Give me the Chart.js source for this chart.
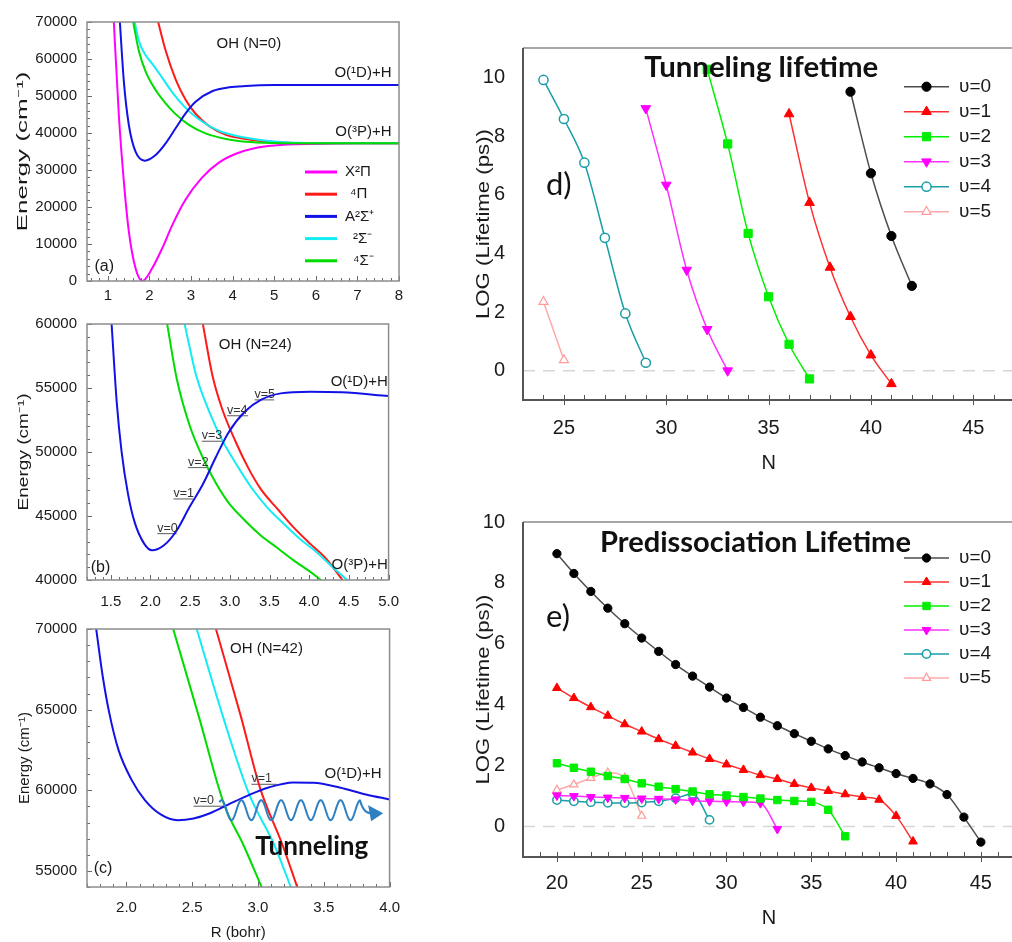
<!DOCTYPE html>
<html>
<head>
<meta charset="utf-8">
<title>OH potential curves and rotational lifetimes</title>
<script src="https://cdn.jsdelivr.net/npm/chart.js@4.4.1/dist/chart.umd.min.js"></script>
<style>
  html, body { margin: 0; padding: 0; background: #fff; }
  body { width: 1012px; height: 942px; overflow: hidden; position: relative; }
  canvas { position: absolute; }
</style>
</head>
<body>
<canvas id="panelA" width="412" height="310" style="left:0;top:0"></canvas>
<canvas id="panelB" width="412" height="314" style="left:0;top:305px"></canvas>
<canvas id="panelC" width="412" height="337" style="left:0;top:605px"></canvas>
<canvas id="panelD" width="551" height="480" style="left:470px;top:0"></canvas>
<canvas id="panelE" width="551" height="452" style="left:470px;top:490px"></canvas>
<script>
// ---------- (a) OH potential energy curves, N = 0 (R in bohr, E in cm-1) ----------
const rX2Pi_A   = [1.145, 1.265, 1.386, 1.506, 1.667, 1.83, 2.07, 2.31, 2.55, 2.87, 3.27, 3.67, 4.08, 4.5, 5.0, 6.0, 7.0, 8.0];
const eX2Pi_A   = [70000, 44870, 26840, 13330, 3430, 0, 3500, 8900, 15100, 22000, 28000, 32000, 34400, 35800, 36600, 37050, 37200, 37200];
const r4Pi_A    = [2.21, 2.39, 2.63, 2.87, 3.11, 3.43, 3.84, 4.32, 5.0, 6.0, 8.0];
const e4Pi_A    = [70000, 62300, 54500, 49000, 45200, 41900, 39500, 38400, 37600, 37250, 37200];
const rA2Sig_A  = [1.29, 1.386, 1.506, 1.667, 1.89, 2.15, 2.39, 2.63, 2.87, 3.11, 3.52, 3.92, 4.32, 5.0, 6.0, 8.0];
const eA2Sig_A  = [70000, 53900, 42170, 34950, 32520, 34060, 37200, 41270, 45330, 48470, 51360, 52350, 52700, 52950, 53000, 53000];
const r2SigM_A  = [1.645, 1.75, 1.91, 2.07, 2.31, 2.55, 2.87, 3.19, 3.67, 4.32, 5.0, 6.0, 8.0];
const e2SigM_A  = [70000, 64800, 61000, 58700, 54900, 51000, 46800, 43700, 40600, 38700, 37700, 37250, 37200];
const r4SigM_A  = [1.61, 1.75, 1.91, 2.15, 2.39, 2.63, 2.95, 3.35, 3.84, 4.32, 5.0, 6.0, 8.0];
const e4SigM_A  = [70000, 62000, 56600, 51600, 48000, 45100, 42200, 39900, 38400, 37650, 37300, 37200, 37200];

// ---------- (b) N = 24 ----------
const rA2Sig_B  = [1.51, 1.574, 1.635, 1.717, 1.80, 1.92, 2.02, 2.17, 2.33, 2.49, 2.66, 2.82, 2.98, 3.19, 3.39, 3.64, 4.01, 4.41, 5.0];
const eA2Sig_B  = [60000, 53940, 50070, 46710, 44520, 42840, 42320, 42710, 43870, 45680, 47480, 49550, 51490, 53160, 54070, 54580, 54710, 54660, 54380];
const r4SigM_B  = [2.21, 2.33, 2.49, 2.66, 2.82, 2.98, 3.19, 3.39, 3.60, 3.80, 4.01, 4.15];
const e4SigM_B  = [60000, 55740, 52130, 49550, 47610, 46070, 44650, 43480, 42500, 41550, 40650, 40000];
const r2SigM_B  = [2.43, 2.575, 2.74, 2.90, 3.07, 3.27, 3.47, 3.68, 3.88, 4.09, 4.29, 4.48];
const e2SigM_B  = [60000, 56000, 53160, 50970, 49160, 47230, 45680, 44390, 43230, 42190, 41030, 40000];
const r4Pi_B    = [2.66, 2.78, 2.90, 3.07, 3.23, 3.39, 3.60, 3.80, 4.01, 4.21, 4.42];
const e4Pi_B    = [60000, 56000, 53420, 50840, 48780, 47100, 45550, 44130, 42840, 41680, 40000];
// vibrational levels of A2Sigma+ at N = 24: energy and the R span of each level line
const levelE_B  = [43620, 46330, 48780, 50840, 52830, 54070];
const levelR0_B = [2.085, 2.29, 2.474, 2.646, 2.965, 3.31];
const levelR1_B = [2.33, 2.535, 2.72, 2.90, 3.23, 3.56];

// ---------- (c) N = 42 ----------
const rA2Sig_C  = [1.77, 1.82, 1.87, 1.94, 2.04, 2.14, 2.26, 2.39, 2.51, 2.63, 2.78, 2.93, 3.08, 3.27, 3.42, 3.62, 3.82, 4.0];
const eA2Sig_C  = [70000, 67040, 64770, 62490, 60630, 59390, 58500, 58140, 58250, 58560, 59140, 59700, 60170, 60480, 60460, 60170, 59740, 59430];
const r4SigM_C  = [2.355, 2.547, 2.744, 2.89, 3.027];
const e4SigM_C  = [70000, 64660, 59075, 56590, 54000];
const r2SigM_C  = [2.534, 2.73, 2.93, 3.125, 3.249];
const e2SigM_C  = [70000, 64660, 59800, 56590, 54000];
const r4Pi_C    = [2.68, 2.867, 3.015, 3.187, 3.298];
const e4Pi_C    = [70000, 64660, 60150, 56590, 54000];
const levelE_C  = [59010, 60370];
const levelR0_C = [2.51, 2.95];
const levelR1_C = [2.745, 3.14];
// tunneling wave: start R, last crest R, arrow tip R, centre energy
const waveR = [2.707, 3.778, 3.951];
const waveE = 58765;

// ---------- tick values ----------
const xTicksA = [1, 2, 3, 4, 5, 6, 7, 8];
const yTicksA = [0, 10000, 20000, 30000, 40000, 50000, 60000, 70000];
const xTicksB = [1.5, 2.0, 2.5, 3.0, 3.5, 4.0, 4.5, 5.0];
const yTicksB = [40000, 45000, 50000, 55000, 60000];
const xTicksC = [2.0, 2.5, 3.0, 3.5, 4.0];
const yTicksC = [55000, 60000, 65000, 70000];
const xTicksD = [25, 30, 35, 40, 45];
const xTicksE = [20, 25, 30, 35, 40, 45];
const yTicksLife = [0, 2, 4, 6, 8, 10];

// ---------- (d) tunneling lifetime, log10(tau / ps) ----------
const nTun0 = [39, 40, 41, 42];
const logTun0 = [9.51, 6.73, 4.59, 2.89];
const nTun1 = [36, 37, 38, 39, 40, 41];
const logTun1 = [8.75, 5.73, 3.52, 1.84, 0.53, -0.45];
const nTun2 = [32, 33, 34, 35, 36, 37];
const logTun2 = [10.27, 7.73, 4.68, 2.52, 0.90, -0.28];
const nTun3 = [29, 30, 31, 32, 33];
const logTun3 = [8.94, 6.33, 3.43, 1.41, 0.0];
const nTun4 = [24, 25, 26, 27, 28, 29];
const logTun4 = [9.91, 8.58, 7.09, 4.53, 1.95, 0.27];
const nTun5 = [24, 25];
const logTun5 = [2.35, 0.36];

// ---------- (e) predissociation lifetime, log10(tau / ps) ----------
const nPre0 = [20, 21, 22, 23, 24, 25, 26, 27, 28, 29, 30, 31, 32, 33, 34, 35, 36, 37, 38, 39, 40, 41, 42, 43, 44, 45];
const logPre0 = [8.96, 8.31, 7.72, 7.17, 6.66, 6.19, 5.75, 5.32, 4.94, 4.58, 4.22, 3.91, 3.59, 3.31, 3.05, 2.80, 2.55, 2.33, 2.12, 1.93, 1.74, 1.58, 1.40, 1.05, 0.31, -0.51];
const nPre1 = [20, 21, 22, 23, 24, 25, 26, 27, 28, 29, 30, 31, 32, 33, 34, 35, 36, 37, 38, 39, 40, 41];
const logPre1 = [4.55, 4.22, 3.92, 3.64, 3.36, 3.12, 2.87, 2.65, 2.43, 2.22, 2.04, 1.86, 1.69, 1.56, 1.40, 1.27, 1.17, 1.06, 0.97, 0.88, 0.35, -0.49];
const nPre2 = [20, 21, 22, 23, 24, 25, 26, 27, 28, 29, 30, 31, 32, 33, 34, 35, 36, 37];
const logPre2 = [2.08, 1.93, 1.80, 1.66, 1.56, 1.42, 1.31, 1.23, 1.15, 1.06, 1.02, 0.97, 0.92, 0.87, 0.84, 0.81, 0.55, -0.32];
const nPre3 = [20, 21, 22, 23, 24, 25, 26, 27, 28, 29, 30, 31, 32, 33];
const logPre3 = [1.02, 1.00, 0.97, 0.95, 0.94, 0.92, 0.91, 0.89, 0.85, 0.83, 0.82, 0.81, 0.77, -0.08];
const nPre4 = [20, 21, 22, 23, 24, 25, 26, 27, 28, 29];
const logPre4 = [0.87, 0.83, 0.80, 0.78, 0.77, 0.79, 0.83, 0.93, 1.07, 0.22];
const nPre5 = [20, 21, 22, 23, 24, 25];
const logPre5 = [1.20, 1.38, 1.59, 1.77, 1.60, 0.35];

// ---------- shared helpers ----------
const SANS = "'Liberation Sans', Arial, Helvetica, sans-serif";
const HUMAN = "Lato, 'Open Sans', sans-serif";
const INK = '#1a1a1a';
Chart.defaults.font.family = SANS;
Chart.defaults.color = INK;

const xy = (xs, ys) => xs.map((x, i) => ({ x, y: ys[i] }));

const COL = { magenta: '#ff00ff', red: '#ff1a1a', blue: '#1212e6', cyan: '#12ecf2', green: '#00dc00' };

function curve(label, rs, es, color) {
  return { label, data: xy(rs, es), borderColor: color, borderWidth: 2, pointRadius: 0,
           cubicInterpolationMode: 'monotone', fill: false };
}
function levelLines(es, r0s, r1s) {
  return es.map((e, i) => ({ label: 'v=' + i, data: [{ x: r0s[i], y: e }, { x: r1s[i], y: e }],
                             borderColor: '#5a5a5a', borderWidth: 1, pointRadius: 0, tension: 0 }));
}
function levelNotes(es, r0s) {
  return es.map((e, i) => ({ text: 'v=' + i, x: r0s[i], y: e, size: 12.5, color: '#333',
                             baseline: 'alphabetic', dy: -2 }));
}

// draws a simple marker (circle / triangle / square) centred at (x, y)
function marker(ctx, shape, r, rot, x, y) {
  ctx.beginPath();
  if (shape === 'circle') {
    ctx.arc(x, y, r, 0, Math.PI * 2);
  } else if (shape === 'rect') {
    const h = r * Math.SQRT1_2;
    ctx.rect(x - h, y - h, 2 * h, 2 * h);
  } else {
    const s = rot ? -1 : 1;
    ctx.moveTo(x, y - s * r);
    ctx.lineTo(x + r * 0.866, y + s * r * 0.5);
    ctx.lineTo(x - r * 0.866, y + s * r * 0.5);
    ctx.closePath();
  }
}

// inner tick marks, plot frame and axis lines
function frame(o) {
  return {
    id: 'frame',
    afterDatasetsDraw(chart) {
      const { ctx, chartArea: a, scales: { x, y } } = chart;
      ctx.save();
      ctx.strokeStyle = o.tickColor;
      ctx.lineWidth = 1;
      const marks = (scale, step, len, out, horiz) => {
        const n0 = Math.ceil(scale.min / step - 1e-6), n1 = Math.floor(scale.max / step + 1e-6);
        for (let n = n0; n <= n1; n++) {
          const p = Math.round(scale.getPixelForValue(n * step)) + 0.5;
          ctx.beginPath();
          if (horiz) { ctx.moveTo(p, a.bottom + out); ctx.lineTo(p, a.bottom - len); }
          else { ctx.moveTo(a.left - out, p); ctx.lineTo(a.left + len, p); }
          ctx.stroke();
        }
      };
      if (o.xMinor) marks(x, o.xMinor, o.minorLen, 0, true);
      if (o.xMajor) marks(x, o.xMajor, o.majorLen, o.majorOut || 0, true);
      if (o.yMinor) marks(y, o.yMinor, o.minorLen, 0, false);
      if (o.yMajor) marks(y, o.yMajor, o.majorLen, o.majorOut || 0, false);
      if (o.box) {
        ctx.strokeStyle = o.boxColor; ctx.lineWidth = o.boxWidth;
        ctx.strokeRect(a.left, a.top, a.right - a.left, a.bottom - a.top);
      }
      if (o.topLine) {
        ctx.strokeStyle = o.topColor; ctx.lineWidth = 1.5;
        ctx.beginPath(); ctx.moveTo(a.left, a.top); ctx.lineTo(a.right, a.top); ctx.stroke();
      }
      if (o.axes) {
        ctx.strokeStyle = o.axisColor; ctx.lineWidth = 2;
        ctx.beginPath(); ctx.moveTo(a.left, a.top); ctx.lineTo(a.left, a.bottom); ctx.lineTo(a.right, a.bottom); ctx.stroke();
      }
      ctx.restore();
    }
  };
}

// free text placed in data coordinates
function notes(items) {
  return {
    id: 'notes',
    afterDatasetsDraw(chart) {
      const { ctx, scales: { x, y } } = chart;
      for (const n of items) {
        ctx.save();
        const fam = n.family || SANS, wt = n.weight || 'normal';
        let size = n.size;
        ctx.font = `${wt} ${size}px ${fam}`;
        if (n.fit) { size = size * n.fit / ctx.measureText(n.text).width; ctx.font = `${wt} ${size}px ${fam}`; }
        ctx.fillStyle = n.color || INK;
        ctx.textAlign = n.align || 'left';
        ctx.textBaseline = n.baseline || 'middle';
        ctx.fillText(n.text, x.getPixelForValue(n.x), y.getPixelForValue(n.y) + (n.dy || 0));
        ctx.restore();
      }
    }
  };
}

// rotated axis title, stretched along its length
function sideTitle(t) {
  return {
    id: 'sideTitle',
    afterDraw(chart) {
      const { ctx, chartArea: a } = chart;
      ctx.save();
      ctx.font = `${t.size}px ${SANS}`;
      ctx.fillStyle = INK;
      ctx.textAlign = 'center';
      ctx.textBaseline = 'middle';
      const w = ctx.measureText(t.text).width;
      ctx.translate(t.cx, (a.top + a.bottom) / 2 + (t.dy || 0));
      ctx.rotate(-Math.PI / 2);
      ctx.scale(t.length / w, 1);
      ctx.fillText(t.text, 0, 0);
      ctx.restore();
    }
  };
}

// key for the potential curves (a)
function curveKey(k) {
  return {
    id: 'curveKey',
    afterDraw(chart) {
      const { ctx, chartArea: a } = chart;
      k.items.forEach((it, i) => {
        const yy = a.top + k.top + i * k.step;
        ctx.save();
        ctx.strokeStyle = it.color; ctx.lineWidth = 3;
        ctx.beginPath(); ctx.moveTo(a.left + k.x0, yy); ctx.lineTo(a.left + k.x1, yy); ctx.stroke();
        ctx.font = `${k.size}px ${SANS}`; ctx.fillStyle = INK; ctx.textBaseline = 'middle';
        ctx.fillText(it.text, a.left + it.tx, yy);
        ctx.restore();
      });
    }
  };
}

// key for the lifetime series (d, e)
function seriesKey(k) {
  return {
    id: 'seriesKey',
    afterDraw(chart) {
      const { ctx, chartArea: a } = chart;
      chart.data.datasets.forEach((ds, i) => {
        const yy = a.top + k.top + i * k.step;
        const x0 = a.left + k.x0, x1 = a.left + k.x1;
        ctx.save();
        ctx.strokeStyle = ds.borderColor; ctx.lineWidth = ds.borderWidth;
        ctx.beginPath(); ctx.moveTo(x0, yy); ctx.lineTo(x1, yy); ctx.stroke();
        marker(ctx, ds.pointStyle, ds.pointRadius, ds.pointRotation, (x0 + x1) / 2, yy);
        ctx.fillStyle = ds.pointBackgroundColor; ctx.fill();
        ctx.strokeStyle = ds.pointBorderColor; ctx.lineWidth = ds.pointBorderWidth; ctx.stroke();
        ctx.font = `${k.size}px ${SANS}`; ctx.fillStyle = INK; ctx.textBaseline = 'middle';
        ctx.fillText(ds.label, a.left + k.tx, yy);
        ctx.restore();
      });
    }
  };
}

// light dashed reference line at log(lifetime) = 0
const zeroLine = {
  id: 'zeroLine',
  beforeDatasetsDraw(chart) {
    const { ctx, chartArea: a, scales: { y } } = chart;
    const p = y.getPixelForValue(0);
    ctx.save();
    ctx.strokeStyle = '#d6d6d6'; ctx.lineWidth = 1.5; ctx.setLineDash([12, 8]);
    ctx.beginPath(); ctx.moveTo(a.left, p); ctx.lineTo(a.right, p); ctx.stroke();
    ctx.restore();
  }
};

// wavy arrow showing tunneling through the centrifugal barrier (c)
const tunnelWave = {
  id: 'tunnelWave',
  afterDatasetsDraw(chart) {
    const { ctx, scales: { x, y } } = chart;
    const xs = x.getPixelForValue(waveR[0]), xe = x.getPixelForValue(waveR[1]), xt = x.getPixelForValue(waveR[2]);
    const yc = y.getPixelForValue(waveE);
    const A = 10, trough = xs + 12, P = (xe - trough) / 6.5;
    ctx.save();
    ctx.strokeStyle = '#2f80c3'; ctx.lineWidth = 2; ctx.lineJoin = 'round';
    ctx.beginPath();
    for (let px = xs; px <= xe + 0.01; px += 0.5) {
      const py = yc + A * Math.cos(2 * Math.PI * (px - trough) / P);
      if (px === xs) ctx.moveTo(px, py); else ctx.lineTo(px, py);
    }
    ctx.quadraticCurveTo(xe + 3, yc + 3, xe + 10, yc + 3);
    ctx.lineTo(xt - 10, yc + 3);
    ctx.stroke();
    ctx.fillStyle = '#2f80c3';
    ctx.beginPath(); ctx.moveTo(xt, yc + 3); ctx.lineTo(xt - 15, yc - 5); ctx.lineTo(xt - 12, yc + 11); ctx.closePath(); ctx.fill();
    ctx.restore();
  }
};

// ---------- potential-curve panels ----------
function pecChart(id, c) {
  return new Chart(document.getElementById(id), {
    type: 'line',
    data: { datasets: c.datasets },
    options: {
      responsive: false, animation: false, events: [], devicePixelRatio: 1,
      layout: { padding: c.pad },
      plugins: { legend: { display: false }, tooltip: { enabled: false } },
      scales: {
        x: {
          type: 'linear', min: c.x[0], max: c.x[1],
          afterBuildTicks: s => { s.ticks = c.xTicks.map(v => ({ value: v })); },
          afterFit: s => { s.height = c.xH; },
          grid: { display: false, drawTicks: false }, border: { display: false },
          ticks: { padding: c.xPad, autoSkip: false, maxRotation: 0, font: { size: 15 }, color: INK,
                   callback: c.xFmt || (v => String(v)) },
          title: c.xTitle ? { display: true, text: c.xTitle, font: { size: 15 }, color: INK, padding: { top: 0, bottom: 0 } }
                          : { display: false }
        },
        y: {
          type: 'linear', min: c.y[0], max: c.y[1],
          afterBuildTicks: s => { s.ticks = c.yTicks.map(v => ({ value: v })); },
          afterFit: s => { s.width = c.yW; },
          grid: { display: false, drawTicks: false }, border: { display: false },
          ticks: { padding: 10, autoSkip: false, font: { size: 15 }, color: INK, callback: v => String(v) }
        }
      }
    },
    plugins: c.plugins
  });
}

const oneDec = v => v.toFixed(1);
const pecFrame = (xMinor, xMajor, yMinor, yMajor) => frame({
  xMinor, xMajor, yMinor, yMajor, minorLen: 3, majorLen: 5, tickColor: '#6a6a6a',
  box: true, boxColor: '#8c8c8c', boxWidth: 1.5
});

pecChart('panelA', {
  x: [0.5, 8], y: [0, 70000], xTicks: xTicksA, yTicks: yTicksA,
  pad: { left: 0, top: 22, right: 13, bottom: 0 }, yW: 87, xH: 29, xPad: 6,
  datasets: [
    curve('A\u00b2\u03a3\u207a', rA2Sig_A, eA2Sig_A, COL.blue),
    curve('\u2074\u03a3\u207b', r4SigM_A, e4SigM_A, COL.green),
    curve('\u00b2\u03a3\u207b', r2SigM_A, e2SigM_A, COL.cyan),
    curve('\u2074\u03a0', r4Pi_A, e4Pi_A, COL.red),
    curve('X\u00b2\u03a0', rX2Pi_A, eX2Pi_A, COL.magenta)
  ],
  plugins: [
    pecFrame(0.2, 1, 2000, 10000),
    notes([
      { text: 'OH (N=0)', x: 4.39, y: 64060, size: 15, align: 'center' },
      { text: 'O(\u00b9D)+H', x: 7.82, y: 56140, size: 15, align: 'right' },
      { text: 'O(\u00b3P)+H', x: 7.82, y: 40360, size: 15, align: 'right' },
      { text: '(a)', x: 0.68, y: 3870, size: 16 }
    ]),
    curveKey({ top: 150, step: 22.2, x0: 218, x1: 250, size: 15, items: [
      { text: 'X\u00b2\u03a0', color: COL.magenta, tx: 258 },
      { text: '\u2074\u03a0', color: COL.red, tx: 263 },
      { text: 'A\u00b2\u03a3\u207a', color: COL.blue, tx: 258 },
      { text: '\u00b2\u03a3\u207b', color: COL.cyan, tx: 266 },
      { text: '\u2074\u03a3\u207b', color: COL.green, tx: 266 }
    ] }),
    sideTitle({ text: 'Energy (cm\u207b\u00b9)', size: 14, cx: 23, length: 160 })
  ]
});

pecChart('panelB', {
  x: [1.2, 5.0], y: [40000, 60000], xTicks: xTicksB, yTicks: yTicksB, xFmt: oneDec,
  pad: { left: 0, top: 17, right: 13, bottom: 0 }, yW: 87, xH: 39, xPad: 13,
  datasets: [
    curve('A\u00b2\u03a3\u207a', rA2Sig_B, eA2Sig_B, COL.blue),
    curve('\u2074\u03a3\u207b', r4SigM_B, e4SigM_B, COL.green),
    curve('\u00b2\u03a3\u207b', r2SigM_B, e2SigM_B, COL.cyan),
    curve('\u2074\u03a0', r4Pi_B, e4Pi_B, COL.red),
    ...levelLines(levelE_B, levelR0_B, levelR1_B)
  ],
  plugins: [
    pecFrame(0.1, 0.5, 1000, 5000),
    notes([
      { text: 'OH (N=24)', x: 3.32, y: 58380, size: 15, align: 'center' },
      { text: 'O(\u00b9D)+H', x: 4.99, y: 55490, size: 15, align: 'right' },
      { text: 'O(\u00b3P)+H', x: 4.99, y: 41160, size: 15, align: 'right' },
      { text: '(b)', x: 1.247, y: 41000, size: 16 },
      ...levelNotes(levelE_B, levelR0_B)
    ]),
    sideTitle({ text: 'Energy (cm\u207b\u00b9)', size: 14, cx: 24.5, length: 117 })
  ]
});

pecChart('panelC', {
  x: [1.7, 4.0], y: [54000, 70000], xTicks: xTicksC, yTicks: yTicksC, xFmt: oneDec,
  pad: { left: 0, top: 24, right: 13, bottom: 0 }, yW: 87, xH: 55, xPad: 12, xTitle: 'R (bohr)',
  datasets: [
    curve('A\u00b2\u03a3\u207a', rA2Sig_C, eA2Sig_C, COL.blue),
    curve('\u2074\u03a3\u207b', r4SigM_C, e4SigM_C, COL.green),
    curve('\u00b2\u03a3\u207b', r2SigM_C, e2SigM_C, COL.cyan),
    curve('\u2074\u03a0', r4Pi_C, e4Pi_C, COL.red),
    ...levelLines(levelE_C, levelR0_C, levelR1_C)
  ],
  plugins: [
    pecFrame(0.1, 0.5, 1000, 5000),
    tunnelWave,
    notes([
      { text: 'OH (N=42)', x: 3.064, y: 68740, size: 15, align: 'center' },
      { text: 'O(\u00b9D)+H', x: 3.94, y: 61040, size: 15, align: 'right' },
      { text: '(c)', x: 1.751, y: 55150, size: 16 },
      { text: 'Tunneling', x: 3.409, y: 56490, size: 24, weight: 'bold', family: HUMAN, align: 'center', fit: 113, color: '#111' },
      ...levelNotes(levelE_C, levelR0_C)
    ]),
    sideTitle({ text: 'Energy (cm\u207b\u00b9)', size: 14, cx: 25, length: 92 })
  ]
});

// ---------- lifetime panels ----------
const STY = [
  { line: '#4d4d4d', shape: 'circle',   r: 4.6, fill: '#000000', edge: '#000000', bw: 1 },
  { line: '#ff3030', shape: 'triangle', r: 5.6, fill: '#ff0000', edge: '#ff0000', bw: 1 },
  { line: '#00f000', shape: 'rect',     r: 5.8, fill: '#00ee00', edge: '#00ee00', bw: 1 },
  { line: '#ff30ff', shape: 'triangle', r: 5.6, fill: '#ff00ff', edge: '#ff00ff', bw: 1, rot: 180 },
  { line: '#1a9ea6', shape: 'circle',   r: 4.6, fill: '#ffffff', edge: '#1a9ea6', bw: 1.5 },
  { line: '#ffaaaa', shape: 'triangle', r: 5.2, fill: '#ffffff', edge: '#ff9a9a', bw: 1.2 }
];
function lifeSeries(i, ns, vals, scale) {
  const s = STY[i];
  return {
    label: '\u03c5=' + i, data: xy(ns, vals), borderColor: s.line, borderWidth: 1.5,
    pointStyle: s.shape, pointRotation: s.rot || 0, pointRadius: s.r * scale,
    pointBackgroundColor: s.fill, pointBorderColor: s.edge, pointBorderWidth: s.bw,
    cubicInterpolationMode: 'monotone', fill: false
  };
}

function lifeChart(id, c) {
  return new Chart(document.getElementById(id), {
    type: 'line',
    data: { datasets: c.datasets },
    options: {
      responsive: false, animation: false, events: [], devicePixelRatio: 1,
      layout: { padding: { left: 0, top: c.top, right: 0, bottom: 0 } },
      plugins: { legend: { display: false }, tooltip: { enabled: false } },
      scales: {
        x: {
          type: 'linear', min: c.x[0], max: c.x[1],
          afterBuildTicks: s => { s.ticks = c.xTicks.map(v => ({ value: v })); },
          afterFit: s => { s.height = c.xH; },
          grid: { display: false, drawTicks: false }, border: { display: false },
          ticks: { padding: c.xPad, autoSkip: false, maxRotation: 0, font: { size: 20 }, color: INK },
          title: { display: true, text: 'N', font: { size: 20 }, color: INK, padding: { top: 0, bottom: c.titlePad } }
        },
        y: {
          type: 'linear', min: c.y[0], max: c.y[1],
          afterBuildTicks: s => { s.ticks = yTicksLife.map(v => ({ value: v })); },
          afterFit: s => { s.width = 53; },
          grid: { display: false, drawTicks: false }, border: { display: false },
          ticks: { padding: 18, autoSkip: false, font: { size: 20 }, color: INK }
        }
      }
    },
    plugins: [
      zeroLine,
      frame({ xMinor: 1, xMajor: 5, minorLen: 5, majorLen: 5, majorOut: 5, tickColor: '#555',
              topLine: true, topColor: '#8a8a8a', axes: true, axisColor: '#555' }),
      notes(c.notes),
      seriesKey(c.key),
      sideTitle({ text: 'LOG (Lifetime (ps))', size: 18, cx: 14, length: 190 })
    ]
  });
}

lifeChart('panelD', {
  x: [23, 47], y: [-1, 11], xTicks: xTicksD, top: 48, xH: 80, xPad: 16, titlePad: 5,
  datasets: [
    lifeSeries(0, nTun0, logTun0, 1), lifeSeries(1, nTun1, logTun1, 1), lifeSeries(2, nTun2, logTun2, 1),
    lifeSeries(3, nTun3, logTun3, 1), lifeSeries(4, nTun4, logTun4, 1), lifeSeries(5, nTun5, logTun5, 1)
  ],
  notes: [
    { text: 'Tunneling lifetime', x: 34.64, y: 10.32, size: 28, weight: 'bold', family: HUMAN, align: 'center', fit: 234, color: '#111' },
    { text: 'd)', x: 24.12, y: 6.33, size: 31, family: HUMAN, color: '#111' }
  ],
  key: { top: 38.7, step: 25, x0: 381, x1: 426, tx: 436, size: 19 }
});

lifeChart('panelE', {
  x: [18, 47], y: [-1, 10], xTicks: xTicksE, top: 32, xH: 85, xPad: 14, titlePad: 12,
  datasets: [
    lifeSeries(0, nPre0, logPre0, 0.9), lifeSeries(1, nPre1, logPre1, 0.9), lifeSeries(2, nPre2, logPre2, 0.9),
    lifeSeries(3, nPre3, logPre3, 0.9), lifeSeries(4, nPre4, logPre4, 0.9), lifeSeries(5, nPre5, logPre5, 0.9)
  ],
  notes: [
    { text: 'Predissociation Lifetime', x: 31.71, y: 9.31, size: 28, weight: 'bold', family: HUMAN, align: 'center', fit: 311, color: '#111' },
    { text: 'e)', x: 19.36, y: 6.875, size: 31, family: HUMAN, color: '#111' }
  ],
  key: { top: 36, step: 24, x0: 381, x1: 426, tx: 436, size: 19 }
});
</script>
</body>
</html>
